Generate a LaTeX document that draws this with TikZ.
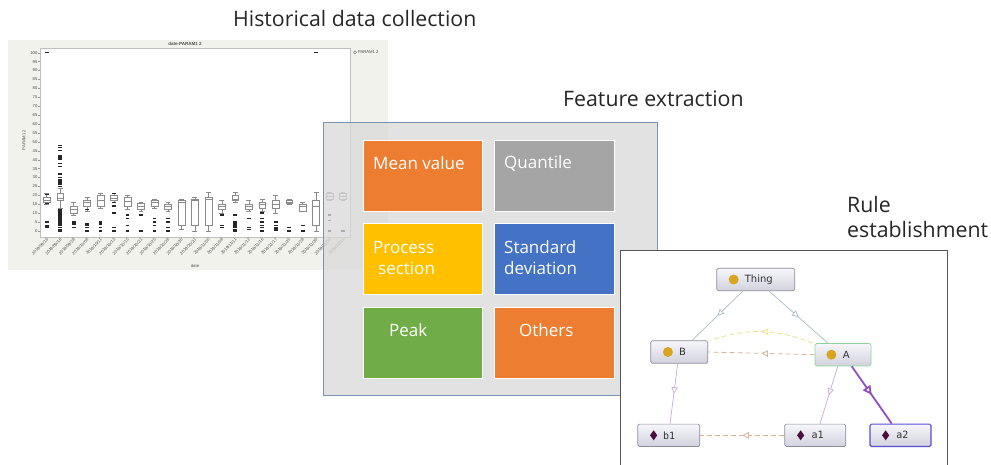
\documentclass[tikz,border=0pt]{standalone}
\usepackage{fontspec}
\setmainfont{Open Sans}
\newfontfamily\chartfont{Liberation Sans}
\newfontfamily\ontofont{DejaVu Sans}
\newfontfamily\ontomono{DejaVu Sans Mono}
\usetikzlibrary{arrows.meta,decorations.markings}

\definecolor{panelbg}{HTML}{F2F2EC}
\definecolor{bpgray}{HTML}{8A8A8A}
\definecolor{featbg}{HTML}{D9D9D9}
\definecolor{featborder}{HTML}{7B93B0}
\definecolor{fOrange}{HTML}{ED7D31}
\definecolor{fGray}{HTML}{A5A5A5}
\definecolor{fYellow}{HTML}{FFC000}
\definecolor{fBlue}{HTML}{4472C4}
\definecolor{fGreen}{HTML}{70AD47}
\definecolor{ontoborder}{HTML}{555555}
\definecolor{nodeborder}{HTML}{8C8C9C}
\definecolor{nodetop}{HTML}{F6F6FB}
\definecolor{nodebot}{HTML}{D2D2DE}
\definecolor{gold}{HTML}{D9A521}
\definecolor{diam}{HTML}{4B0F3F}
\definecolor{edgeblue}{HTML}{A8BCCB}
\definecolor{edgetan}{HTML}{D9B59A}
\definecolor{edgeyellow}{HTML}{F0DE8A}
\definecolor{edgelilac}{HTML}{C9A9DA}
\definecolor{edgepurple}{HTML}{9050C0}
\definecolor{agreen}{HTML}{8ED49A}
\definecolor{a2blue}{HTML}{5B4FD0}

\tikzset{
  heading/.style={font=\fontsize{21.3}{25}\selectfont, text=black!85, inner sep=0pt, align=left},
  featbox/.style={draw=white, line width=1pt, minimum width=119.6pt, minimum height=71pt, anchor=north west, inner sep=0pt},
  feattext/.style={font=\fontsize{17}{21}\selectfont, text=white, inner sep=0pt, align=left, anchor=west},
  bpline/.style={draw=bpgray, line width=0.45pt},
  chartlab/.style={font=\chartfont\fontsize{4.2}{5}\selectfont, text=black!70, inner sep=0.4pt},
  cls/.style={draw=nodeborder, line width=0.7pt, rounded corners=1.5pt, top color=nodetop, bottom color=nodebot, minimum height=22.4pt, inner sep=0pt},
  clstext/.style={font=\ontofont\fontsize{10}{12}\selectfont, text=black!80, inner sep=0pt, anchor=west},
  indtext/.style={font=\ontomono\fontsize{10}{12}\selectfont, text=black!80, inner sep=0pt, anchor=west},
  midtri/.style={postaction={decorate, decoration={markings, mark=at position 0.5 with {\arrow{Triangle[fill=white, length=#1, width=#1]}}}}},
  midtri/.default=6.5pt,
  isa/.style={line width=0.7pt, midtri},
  sameas/.style={line width=0.8pt, dash pattern=on 5pt off 3pt, midtri},
}

% one box-plot column: index, low whisker, q1, median, q3, high whisker, outliers
\newcommand\bpcol[7]{%
  \pgfmathsetmacro\bpx{46.7+(#1-1)*13.47}
  \draw[bpline] (\bpx,#2) -- (\bpx,#3) (\bpx,#5) -- (\bpx,#6)
    (\bpx-2.4,#2) -- (\bpx+2.4,#2) (\bpx-2.4,#6) -- (\bpx+2.4,#6);
  \draw[bpline, fill=white] (\bpx-3.4,#3) rectangle (\bpx+3.4,#5);
  \draw[bpline] (\bpx-3.4,#4) -- (\bpx+3.4,#4);
  \foreach \o in {#7} {\fill[black!85] (\bpx-1.9,\o-0.38) rectangle (\bpx+1.9,\o+0.38);}
}

\begin{document}
\begin{tikzpicture}[x=1pt, y=-1pt]
\useasboundingbox (0,0) rectangle (991,464);

% ---------------- historical data chart ----------------
\node[heading, anchor=west] (histtitle) at (233,19) {Historical data collection};
\fill[panelbg] (8,40) rectangle (388,270);
\fill[white] (40,48) rectangle (350,237);
\draw[black!25, line width=0.4pt] (40,48) rectangle (350,237);
\node[chartlab, font=\chartfont\bfseries\fontsize{4.5}{5}\selectfont] (charttitle) at (185,44.3) {date-PARAM1 2};
\draw[black!60, line width=0.35pt] (355,52.3) circle (1.5pt);
\node[chartlab, anchor=west] (legend) at (357.5,52.3) {PARAM1 2};
\node[chartlab, rotate=90] (ytitle) at (24,140) {PARAM1 2};
\node[chartlab] (xtitle) at (195,266) {date};

\begin{scope}[shift={(0,231)}, y=1.783pt]
  \foreach \v in {0,5,...,100} {
    \draw[black!40, line width=0.3pt] (38.3,\v) -- (40,\v);
    \node[chartlab, anchor=east] (ytick\v) at (38,\v) {\v};
  }
  \foreach \d [count=\i] in {09/16,09/18,09/28,10/08,10/11,10/13,10/15,10/21,10/25,10/28,10/30,10/31,11/05,11/08,11/11,11/12,11/16,11/17,11/25,11/28,11/30,12/03,12/11} {
    \node[chartlab, rotate=45, anchor=east] (xtick\i) at ({47.8+(\i-1)*13.47},-4.4) {2019/\d};
  }
  \bpcol{1}{15}{16}{17.5}{19}{21}{100,20.5,15.5,5,3,2.3}
  \bpcol{2}{13}{17}{18.5}{21}{24}{0,1,2,3,4,5,5.7,6.5,7.3,8,9,9.7,10.5,11.3,12,25,26,27,28,29,30,32,36,38,40,41,42,45,47,48}
  \bpcol{3}{9}{10}{12}{14}{16}{5,4,2}
  \bpcol{4}{11}{14}{16}{17.5}{19}{12,4,3,2,0}
  \bpcol{5}{13}{14}{17}{20}{21}{5,4,2,0}
  \bpcol{6}{16}{17}{18.5}{20}{21}{21,16,14,10,2,0}
  \bpcol{7}{12}{14}{16.5}{19}{20}{9,7,3,0}
  \bpcol{8}{11}{12}{14}{15.5}{16}{9,0}
  \bpcol{9}{13}{14}{16}{17.5}{18}{7,5,3,0}
  \bpcol{10}{11}{12}{14}{15}{16}{7,5,2,0}
  \bpcol{11}{1}{3}{16}{17}{18}{}
  \bpcol{12}{0}{3}{17}{18}{19}{}
  \bpcol{13}{0}{3}{18}{19}{22}{}
  \bpcol{14}{10}{12}{14}{15}{17}{9,3,2}
  \bpcol{15}{16}{17}{18}{20}{22}{9,5,4,3.3,2.6,2,1,0}
  \bpcol{16}{11}{12}{14}{15}{17}{7,2,1}
  \bpcol{17}{11}{13}{15}{16}{18}{10,7,5,3,2,0}
  \bpcol{18}{10}{13}{15}{17}{20}{5,3,2,1.3,0.6}
  \bpcol{19}{15}{15.5}{16}{17}{18}{2,0}
  \bpcol{20}{11}{11}{14}{15}{16}{3,0}
  \bpcol{21}{0}{3}{14}{17}{22}{100}
  \bpcol{22}{17}{18}{19.5}{21}{22}{9,6,0}
  \bpcol{23}{17}{18}{19.5}{21}{22}{0}
\end{scope}

% ---------------- feature extraction ----------------
\node[heading, anchor=west] (feattitle) at (563,99) {Feature extraction};
\fill[featbg, fill opacity=0.76] (323,122) rectangle (657,395);
\draw[featborder, line width=0.9pt] (323,122) rectangle (657,395);

\node[featbox, fill=fOrange] (mean) at (362.7,140) {};
\node[featbox, fill=fGray]   (quant) at (494,140) {};
\node[featbox, fill=fYellow] (proc) at (362.7,223.3) {};
\node[featbox, fill=fBlue]   (std) at (494,223.3) {};
\node[featbox, fill=fGreen]  (peak) at (362.7,306.7) {};
\node[featbox, fill=fOrange] (other) at (494,306.7) {};

\node[feattext] (meantxt)  at ([xshift=10.3pt, yshift=-23pt]mean.north west) {Mean value};
\node[feattext] (quanttxt) at ([xshift=10pt, yshift=-23pt]quant.north west) {Quantile};
\node[feattext] (proctxt)  at ([xshift=10.3pt, yshift=-34.5pt]proc.north west) {Process\\\hspace*{5pt}section};
\node[feattext] (stdtxt)   at ([xshift=10pt, yshift=-34.5pt]std.north west) {Standard\\deviation};
\node[feattext] (peaktxt)  at ([xshift=26.3pt, yshift=-23.3pt]peak.north west) {Peak};
\node[feattext] (othertxt) at ([xshift=25pt, yshift=-23.3pt]other.north west) {Others};

% ---------------- rule establishment ----------------
\node[heading, anchor=west] (ruletitle) at (847,217.5) {Rule\\[0pt]establishment};
\fill[white] (620,250) rectangle (947,470);
\draw[ontoborder, line width=0.8pt] (620,470) -- (620,250) -- (947,250) -- (947,470);

\node[cls, minimum width=78pt] (thing) at (755.8,279.5) {};
\node[cls, minimum width=57pt] (B) at (679.3,352) {};
\node[cls, minimum width=56pt, draw=agreen] (A) at (843,354.7) {};
\node[cls, minimum width=62pt] (b1) at (668.8,435.3) {};
\node[cls, minimum width=61pt] (a1) at (815.3,435.3) {};
\node[cls, minimum width=61pt, draw=a2blue, line width=1.1pt] (a2) at (900.5,435.3) {};

\fill[gold] ([xshift=17.2pt]thing.west) circle (5pt);
\fill[gold] ([xshift=17.5pt]B.west) circle (5pt);
\fill[gold] ([xshift=16.7pt]A.west) circle (5pt);
\foreach \n in {b1,a1,a2} {
  \fill[diam, shift={([xshift=16.2pt]\n.west)}] (0,-5) -- (3.6,0) -- (0,5) -- (-3.6,0) -- cycle;
}
\node[clstext] (thinglbl) at ([xshift=28.2pt]thing.west) {Thing};
\node[clstext] (Blbl) at ([xshift=28.5pt]B.west) {B};
\node[clstext] (Albl) at ([xshift=28pt]A.west) {A};
\node[indtext] (b1lbl) at ([xshift=25.5pt]b1.west) {b1};
\node[indtext] (a1lbl) at ([xshift=27pt]a1.west) {a1};
\node[indtext] (a2lbl) at ([xshift=26.7pt]a2.west) {a2};

% subclass / type links
\draw[isa, edgeblue] ([xshift=-13pt]thing.south) -- ([xshift=12.7pt]B.north);
\draw[isa, edgeblue] ([xshift=13.2pt]thing.south) -- ([xshift=-15pt]A.north);
\draw[isa, edgelilac] ([xshift=-1.6pt]B.south) -- ([xshift=1.2pt]b1.north);
\draw[isa, edgelilac] ([xshift=-5.3pt]A.south) -- ([xshift=4.7pt]a1.north);
\draw[line width=1.8pt, edgepurple, midtri=9pt] ([xshift=8.7pt]A.south) -- ([xshift=-8.8pt]a2.north);
% property links
\draw[sameas, edgeyellow] ([xshift=-2pt]A.north west) to[bend right=20] ([xshift=2pt]B.north east);
\draw[sameas, edgetan] (A.west) -- (B.east);
\draw[sameas, edgetan] (a1.west) -- (b1.east);
\end{tikzpicture}
\end{document}
